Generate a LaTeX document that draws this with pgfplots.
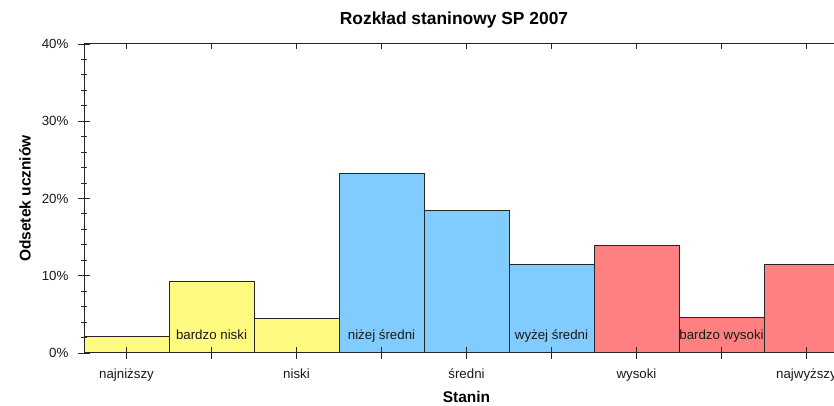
\documentclass[border=0pt]{standalone}
\usepackage{pgfplots}
\pgfplotsset{compat=1.18}
\usepackage{fontspec}
\setmainfont{Liberation Sans}
\definecolor{barY}{RGB}{255,250,128}
\definecolor{barB}{RGB}{128,204,255}
\definecolor{barR}{RGB}{255,128,128}
\begin{document}
\begin{tikzpicture}[x=1pt,y=1pt]
\path[use as bounding box, clip] (0,0) rectangle (834,406);
\begin{axis}[
  at={(84pt,53pt)}, anchor=south west, scale only axis,
  width=765pt, height=309pt,
  xmin=-0.5, xmax=8.5, ymin=0, ymax=40,
  axis on top=true,
  /pgf/number format/assume math mode=true,
  axis line style={line width=1pt, black!85},
  every tick/.style={black!85, line width=0.9pt},
  xtick={0,...,8},
  xticklabels={najniższy,,niski,,średni,,wysoki,,najwyższy},
  xtick pos=left, ytick pos=left,
  tick align=center,
  major tick length=12pt, minor tick length=6pt,
  ytick={0,10,20,30,40},
  yticklabels={0\%,10\%,20\%,30\%,40\%},
  minor y tick num=4,
  tick label style={font=\fontsize{13.3}{15}\selectfont, text=black!90},
  xticklabel style={anchor=base, yshift=-19pt},
  yticklabel style={xshift=-6pt},
  title={Rozkład staninowy SP 2007},
  title style={font=\fontsize{17.4}{19}\selectfont\bfseries, at={(axis description cs:0.4837,1.058)}, anchor=center},
  xlabel={Stanin},
  xlabel style={font=\fontsize{15.5}{17}\selectfont\bfseries, at={(axis description cs:0.5,-0.1408)}, anchor=center},
  ylabel={Odsetek uczniów},
  ylabel style={font=\fontsize{15.5}{17}\selectfont\bfseries, at={(axis description cs:-0.0772,0.5)}, anchor=center},
]
\addplot[ybar, bar width=1, bar shift=0pt, fill=barY, draw=black!85, line width=0.9pt]
  coordinates {(0,2.2) (1,9.25) (2,4.5)};
\addplot[ybar, bar width=1, bar shift=0pt, fill=barB, draw=black!85, line width=0.9pt]
  coordinates {(3,23.2) (4,18.45) (5,11.5)};
\addplot[ybar, bar width=1, bar shift=0pt, fill=barR, draw=black!85, line width=0.9pt]
  coordinates {(6,13.9) (7,4.55) (8,11.5)};
\node[anchor=base, yshift=13.5pt, font=\fontsize{13.3}{15}\selectfont, text=black!90] at (axis cs:1,0) {bardzo niski};
\node[anchor=base, yshift=13.5pt, font=\fontsize{13.3}{15}\selectfont, text=black!90] at (axis cs:3,0) {niżej średni};
\node[anchor=base, yshift=13.5pt, font=\fontsize{13.3}{15}\selectfont, text=black!90] at (axis cs:5,0) {wyżej średni};
\node[anchor=base, yshift=13.5pt, font=\fontsize{13.3}{15}\selectfont, text=black!90] at (axis cs:7,0) {bardzo wysoki};
\end{axis}
\begin{axis}[
  at={(84pt,53pt)}, anchor=south west, scale only axis,
  width=765pt, height=309pt,
  xmin=-0.5, xmax=8.5, ymin=0, ymax=40,
  axis line style={draw=none},
  xtick={0,...,8}, xticklabels={},
  xtick pos=right, ytick=\empty,
  tick align=inside, major tick length=5pt,
  every tick/.style={black!85, line width=0.9pt},
]
\end{axis}
\end{tikzpicture}
\end{document}
